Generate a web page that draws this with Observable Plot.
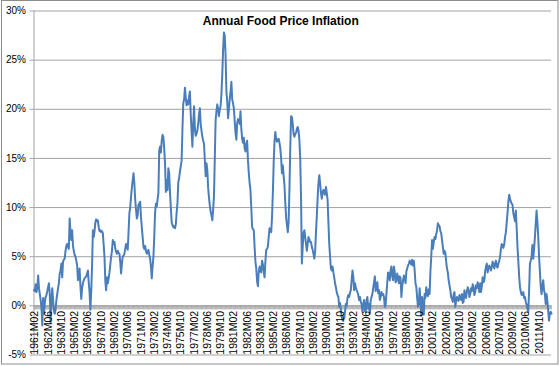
<!DOCTYPE html>
<html><head><meta charset="utf-8">
<script src="https://cdn.jsdelivr.net/npm/d3@7"></script>
<script src="https://cdn.jsdelivr.net/npm/@observablehq/plot@0.6"></script>
<style>
html,body{margin:0;padding:0;background:#fff;}
#chart{width:560px;height:366px;}
</style></head><body><div id="chart"></div>
<script>
const title = "Annual Food Price Inflation";
const startYear = 1961, startMonth = 2;

// monthly annual food price inflation, % (1961M02 .. 1969M12)
const infl1960s = [
  1.6, 1.5, 2.2, 1.4, 1.8, 3.1, 1.8, 1.2, 0.6, -0.2, -2.0,
  0.8, -0.8, 0.3, 0.9, 1.1, 1.5, 1.9, 2.3, 1.2, -1.7, 0.4, 1.8,
  0.6, -0.5, -0.8, -0.4, 0.6, 1.2, 1.8, 2.3, 3.3, 3.6, 4.3, 2.9,
  4.5, 4.7, 4.8, 5.6, 6.1, 6.3, 6.0, 5.8, 8.9, 7.5, 6.7, 7.7,
  6.1, 5.6, 5.2, 5.0, 4.6, 4.1, 2.6, 3.2, 3.8, 2.0, 0.7, 1.8,
  2.3, 2.6, 2.8, 2.9, 3.0, 3.3, 3.6, 2.4, 1.4, -0.4, 1.5, 4.0,
  7.7, 7.0, 7.6, 8.5, 8.8, 8.6, 8.7, 8.0, 7.6, 7.7, 7.5, 7.6,
  7.4, 6.2, 5.0, 2.5, 1.6, 2.9, 2.3, 2.8, 3.4, 4.2, 5.0, 5.6,
  6.7, 6.3, 6.5, 5.8, 5.5, 5.3, 5.6, 5.4, 5.3, 4.5, 3.3, 4.3
];
const infl1970s = [
  5.0, 5.1, 5.3, 5.8, 6.3, 6.0, 5.7, 7.5, 9.4, 10.0, 11.1, 12.0,
  12.8, 13.5, 12.5, 10.8, 9.8, 8.9, 9.2, 10.3, 10.4, 10.6, 9.0, 8.0,
  7.0, 6.0, 5.8, 6.1, 5.6, 5.3, 5.5, 5.7, 5.2, 4.8, 4.0, 2.8,
  4.0, 5.0, 7.0, 9.5, 10.4, 10.1, 10.8, 11.5, 15.8, 16.2, 15.6, 16.8,
  17.4, 17.2, 16.0, 14.5, 11.6, 12.8, 11.8, 14.0, 13.5, 11.5, 10.0, 8.5,
  8.2, 8.0, 8.1, 7.9, 8.3, 9.5, 10.5, 12.6, 13.0, 13.7, 14.2, 14.8,
  18.0, 20.6, 21.0, 22.2, 21.2, 20.4, 20.9, 20.5, 21.3, 21.8, 19.5, 17.8,
  16.2, 18.5, 20.3, 18.0, 17.3, 17.5, 17.9, 18.5, 19.5, 20.1, 18.5, 17.8,
  17.2, 16.8, 16.5, 14.8, 13.2, 14.5, 13.8, 12.0, 11.0, 10.2, 9.6, 9.2,
  8.7, 9.8, 11.1, 15.0, 18.9, 19.8, 20.5, 20.0, 19.3, 20.0, 20.3, 21.5
];
const infl1980s = [
  23.5, 26.0, 27.8, 27.5, 25.5, 21.8, 20.8, 19.1, 20.0, 21.0, 21.8, 22.8,
  21.0, 20.6, 20.1, 18.8, 17.6, 16.9, 18.6, 19.0, 18.9, 18.5, 19.8, 18.0,
  17.0, 16.6, 17.1, 16.0, 15.7, 16.5, 16.8, 14.8, 13.5, 12.5, 11.8, 10.0,
  8.0, 7.8, 7.7, 6.0, 4.5, 3.8, 2.5, 2.0, 3.5, 4.0, 3.5, 3.4,
  4.6, 4.2, 3.5, 2.9, 4.5, 5.7, 5.8, 6.0, 7.0, 7.9, 7.6, 7.5,
  9.0, 11.5, 14.5, 16.7, 17.7, 17.0, 16.7, 16.9, 17.0, 16.6, 16.0, 15.0,
  13.5, 14.3, 13.2, 12.3, 10.5, 9.0, 8.2, 7.5, 8.5, 11.8, 16.0, 19.3,
  19.2, 18.5, 17.5, 17.2, 17.5, 17.6, 18.0, 18.2, 17.8, 16.9, 15.0, 11.0,
  4.3, 6.0, 7.4, 7.7, 7.0, 6.3, 5.6, 6.3, 7.0, 6.8, 6.5, 6.5,
  6.0, 5.7, 5.3, 4.8, 5.5, 7.5, 9.1, 11.0, 12.5, 13.3, 12.5, 11.5
];
const infl1990s = [
  10.9, 11.5, 11.8, 11.5, 11.3, 12.1, 11.5, 10.8, 8.5, 6.3, 5.0, 3.8,
  3.6, 4.0, 3.4, 2.9, 2.3, 1.9, 1.4, 1.1, 0.9, -0.1, 0.3, -0.4,
  -1.1, -1.5, -1.0, -1.3, -0.6, 0.2, 0.0, 0.8, 1.1, 0.9, 1.3, 1.6,
  2.6, 3.6, 3.0, 1.6, 2.3, 1.9, 1.6, 1.4, 1.1, 0.6, 0.9, 0.4,
  0.2, -0.6, 0.1, 0.6, -0.5, -0.6, 0.6, 0.9, -0.3, 0.2, -0.8, 0.6,
  0.9, 1.2, 1.8, 2.4, 3.0, 1.5, 1.9, 2.4, 1.3, 1.6, 0.6, 0.9,
  1.4, 1.1, 1.2, 0.9, -0.1, 0.1, 1.3, 2.4, 3.4, 3.3, 2.6, 3.6,
  4.0, 3.0, 2.6, 4.0, 3.4, 2.4, 2.6, 3.3, 2.8, 2.3, 3.0, 2.8,
  0.9, 2.0, 2.6, 3.1, 2.7, 2.3, 3.5, 3.8, 4.1, 4.3, 4.6, 4.4,
  4.2, 4.7, 4.1, 4.6, 3.6, 2.3, 1.9, 0.8, -0.1, 0.2, 1.8, 0.5
];
const infl2000s = [
  -1.0, 0.9, -0.2, -0.9, 1.2, 0.8, 1.9, 1.2, 1.0, 1.7, 1.2, 3.5,
  5.0, 6.7, 5.8, 6.5, 7.0, 6.8, 7.3, 7.7, 8.4, 8.2, 8.1, 7.6,
  7.4, 6.7, 6.0, 5.3, 5.6, 5.4, 4.5, 3.8, 3.4, 2.6, 2.1, 1.6,
  0.9, 0.7, 0.4, 1.2, 1.4, -0.1, 0.5, 0.9, 0.6, 0.5, 1.1, 0.8,
  0.6, 1.2, 0.3, 0.4, 1.6, 1.0, 0.8, 1.5, 1.9, 1.6, 0.9, 1.2,
  1.8, 1.5, 2.2, 1.9, 1.1, 1.4, 2.1, 1.8, 2.4, 2.0, 1.4, 2.3,
  1.4, 2.0, 2.9, 2.4, 2.6, 3.5, 4.0, 4.3, 3.4, 3.8, 4.1, 3.9,
  3.6, 4.0, 4.5, 4.2, 3.8, 4.3, 4.6, 4.0, 3.9, 4.3, 4.6, 5.0,
  5.8, 6.3, 6.1, 5.9, 6.3, 7.0, 7.5, 8.5, 9.5, 10.6, 11.3, 10.9,
  10.6, 10.4, 10.3, 9.4, 9.0, 8.6, 9.7, 7.9, 6.0, 4.5, 3.0, 1.9
];
const infl2010s = [
  1.4, 1.1, 1.2, 1.4, 0.8, 0.9, 0.4, 0.1, -0.3, -0.6, 1.5, 4.3,
  4.6, 5.0, 6.2, 4.8, 5.8, 7.0, 8.4, 9.7, 8.5, 7.0, 5.0, 3.5,
  2.0, 1.2, 2.0, 2.6, 1.6, 1.2, 0.2, 1.2, 0.5, -0.5, -1.5, -0.8,
  -0.6, -0.8
];

const xTickLabels = ["1961M02","1962M06","1963M10","1965M02","1966M06","1967M10","1969M02","1970M06","1971M10",
  "1973M02","1974M06","1975M10","1977M02","1978M06","1979M10","1981M02","1982M06","1983M10","1985M02","1986M06",
  "1987M10","1989M02","1990M06","1991M10","1993M02","1994M06","1995M10","1997M02","1998M06","1999M10","2001M02",
  "2002M06","2003M10","2005M02","2006M06","2007M10","2009M02","2010M06","2011M10"];
const yTicks = [-5, 0, 5, 10, 15, 20, 25, 30];

const values = [].concat(infl1960s, infl1970s, infl1980s, infl1990s, infl2000s, infl2010s);
const data = values.map((v, i) => ({i, v}));
const monthIndex = s => (+s.slice(0, 4) - startYear) * 12 + (+s.slice(5) - startMonth);

const grid = "#a3a3a3";
const plot = Plot.plot({
  width: 560, height: 366,
  marginLeft: 33.5, marginRight: 9, marginTop: 10.5, marginBottom: 11.5,
  style: {fontFamily: "'Liberation Sans', Arial, sans-serif", background: "white", overflow: "visible"},
  x: {domain: [0, values.length - 1], axis: null},
  y: {domain: [-5, 30], axis: null},
  marks: [
    Plot.ruleY(yTicks, {stroke: grid}),
    Plot.ruleY(yTicks, {x1: () => 0, x2: () => 0, insetLeft: -4, stroke: grid}),
    Plot.ruleX(data, {x: "i", y1: () => 0, y2: () => 0, insetBottom: -4, stroke: "#8f8f8f", strokeWidth: 0.6}),
    Plot.ruleX([0], {y1: () => -5, y2: () => 30, stroke: grid}),
    Plot.line(data, {x: "i", y: "v", stroke: "#4a7ebb", strokeWidth: 2, strokeLinejoin: "round"}),
    Plot.text(yTicks, {y: d => d, text: d => `${d}%`, frameAnchor: "left", textAnchor: "end", dx: -8, fontSize: 10, fill: "#000"}),
    Plot.text(xTickLabels, {x: monthIndex, y: () => 0, text: d => d, rotate: -90, textAnchor: "end", dy: 5, dx: 1, fontSize: 10.5, fill: "#000"}),
    Plot.text([title], {frameAnchor: "top", dx: -12, dy: 5, fontWeight: "bold", fontSize: 12, fill: "#000"})
  ]
});
d3.select(plot).append("rect")
  .attr("x", 1.5).attr("y", 0.5).attr("width", 556.5).attr("height", 363.5)
  .attr("fill", "none").attr("stroke", "#8c8c8c");
document.getElementById("chart").appendChild(plot);
</script></body></html>
